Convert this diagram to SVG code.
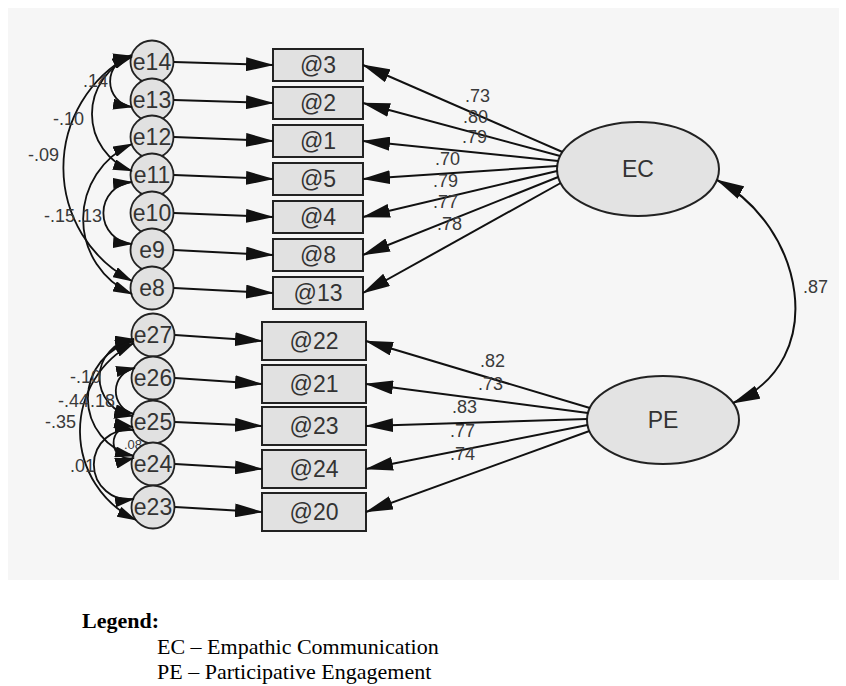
<svg xmlns="http://www.w3.org/2000/svg" width="846" height="686" viewBox="0 0 846 686">
<defs>
<marker id="ah" viewBox="0 0 28 14" refX="27" refY="7" markerWidth="28" markerHeight="14" markerUnits="userSpaceOnUse" orient="auto-start-reverse"><path d="M0,0 L28,7 L0,14 z" fill="#111"/></marker>
<marker id="as" viewBox="0 0 20 11" refX="19" refY="5.5" markerWidth="20" markerHeight="11" markerUnits="userSpaceOnUse" orient="auto-start-reverse"><path d="M0,0 L20,5.5 L0,11 z" fill="#111"/></marker>
</defs>
<style>
.c{fill:none;stroke:#111;stroke-width:2}
.ca{fill:none;stroke:#111;stroke-width:1.8;marker-start:url(#as);marker-end:url(#as)}
.p{marker-end:url(#ah)}
.box{fill:#e1e1e1;stroke:#222;stroke-width:2}
.err{fill:#e1e1e1;stroke:#222;stroke-width:1.8}
.lat{fill:#e3e3e3;stroke:#222;stroke-width:2}
.t{font-family:"Liberation Sans",Arial,sans-serif;font-size:23px;fill:#333;text-anchor:middle}
.lb{font-family:"Liberation Sans",Arial,sans-serif;font-size:18px;fill:#3a3a3a}
.lg{font-family:"Liberation Serif","Times New Roman",serif;font-size:22px;fill:#000}
</style>
<rect x="0" y="0" width="846" height="686" fill="#ffffff"/>
<rect x="8" y="8" width="831" height="572" fill="#f6f6f6"/>

<text class="lb" x="124" y="449" style="font-size:13px">.08</text>

<g id="e14"><circle class="err" cx="152" cy="62" r="21.5"/><text class="t" x="152" y="70">e14</text></g>
<g id="e13"><circle class="err" cx="152" cy="100" r="21.5"/><text class="t" x="152" y="108">e13</text></g>
<g id="e12"><circle class="err" cx="152" cy="137" r="21.5"/><text class="t" x="152" y="145">e12</text></g>
<g id="e11"><circle class="err" cx="152" cy="175" r="21.5"/><text class="t" x="152" y="183">e11</text></g>
<g id="e10"><circle class="err" cx="152" cy="213" r="21.5"/><text class="t" x="152" y="221">e10</text></g>
<g id="e9"><circle class="err" cx="152" cy="250" r="21.5"/><text class="t" x="152" y="258">e9</text></g>
<g id="e8"><circle class="err" cx="152" cy="288" r="21.5"/><text class="t" x="152" y="296">e8</text></g>

<g id="e27"><circle class="err" cx="153" cy="335" r="21.5"/><text class="t" x="153" y="343">e27</text></g>
<g id="e26"><circle class="err" cx="153" cy="378" r="21.5"/><text class="t" x="153" y="386">e26</text></g>
<g id="e25"><circle class="err" cx="153" cy="422" r="21.5"/><text class="t" x="153" y="430">e25</text></g>
<g id="e24"><circle class="err" cx="153" cy="464" r="21.5"/><text class="t" x="153" y="472">e24</text></g>
<g id="e23"><circle class="err" cx="153" cy="507" r="21.5"/><text class="t" x="153" y="515">e23</text></g>

<g id="q3"><rect class="box" x="273" y="49" width="90" height="32"/><text class="t" x="318" y="73">@3</text></g>
<g id="q2"><rect class="box" x="273" y="87" width="90" height="32"/><text class="t" x="318" y="111">@2</text></g>
<g id="q1"><rect class="box" x="273" y="125" width="90" height="32"/><text class="t" x="318" y="149">@1</text></g>
<g id="q5"><rect class="box" x="273" y="163" width="90" height="32"/><text class="t" x="318" y="187">@5</text></g>
<g id="q4"><rect class="box" x="273" y="201" width="90" height="32"/><text class="t" x="318" y="225">@4</text></g>
<g id="q8"><rect class="box" x="273" y="239" width="90" height="32"/><text class="t" x="318" y="263">@8</text></g>
<g id="q13"><rect class="box" x="273" y="277" width="90" height="32"/><text class="t" x="318" y="301">@13</text></g>

<g id="q22"><rect class="box" x="262" y="322" width="104" height="38"/><text class="t" x="314" y="349">@22</text></g>
<g id="q21"><rect class="box" x="262" y="365" width="104" height="38"/><text class="t" x="314" y="392">@21</text></g>
<g id="q23"><rect class="box" x="262" y="407" width="104" height="38"/><text class="t" x="314" y="434">@23</text></g>
<g id="q24"><rect class="box" x="262" y="450" width="104" height="38"/><text class="t" x="314" y="477">@24</text></g>
<g id="q20"><rect class="box" x="262" y="493" width="104" height="38"/><text class="t" x="314" y="520">@20</text></g>

<g id="EC"><ellipse class="lat" cx="638" cy="169" rx="81" ry="47"/><text class="t" x="638" y="177">EC</text></g>
<g id="PE"><ellipse class="lat" cx="663" cy="420" rx="76" ry="44"/><text class="t" x="663" y="428">PE</text></g>

<g id="connectors">
<path class="c p" d="M174 62 L273 65"/>
<path class="c p" d="M174 100 L273 103"/>
<path class="c p" d="M174 137 L273 141"/>
<path class="c p" d="M174 175 L273 179"/>
<path class="c p" d="M174 213 L273 217"/>
<path class="c p" d="M174 250 L273 255"/>
<path class="c p" d="M174 288 L273 293"/>
<path class="c p" d="M175 335 L262 341"/>
<path class="c p" d="M175 378 L262 384"/>
<path class="c p" d="M175 422 L262 426"/>
<path class="c p" d="M175 464 L262 469"/>
<path class="c p" d="M175 507 L262 512"/>

<path class="c p" d="M562.5 152 L363 65"/>
<path class="c p" d="M560.2 156 L363 103"/>
<path class="c p" d="M558.2 161 L363 141"/>
<path class="c p" d="M557.2 166 L363 179"/>
<path class="c p" d="M557.1 171 L363 217"/>
<path class="c p" d="M558.2 177 L363 255"/>
<path class="c p" d="M560.7 183 L363 293"/>

<path class="c p" d="M589.9 408 L366 341"/>
<path class="c p" d="M588 413 L366 384"/>
<path class="c p" d="M587 419 L366 426"/>
<path class="c p" d="M587.5 425 L366 469"/>
<path class="c p" d="M589.4 431 L366 512"/>

<path class="c" style="marker-start:url(#ah);marker-end:url(#ah)" d="M717 180 C803 225, 832 360, 733 403"/>

<path class="ca" d="M132 56 A25.8 25.8 0 0 0 132 107"/>
<path class="ca" d="M132 57 A60.6 60.6 0 0 0 132 171"/>
<path class="ca" d="M131 55 A127.8 127.8 0 0 0 132 281"/>
<path class="ca" d="M132 144 A82 82 0 0 0 132 294"/>
<path class="ca" d="M132 182 A31.1 31.1 0 0 0 132 244"/>

<path class="ca" d="M134 343 A98.7 98.7 0 0 0 136 520"/>
<path class="ca" d="M134 341 A58.9 58.9 0 0 0 134 456"/>
<path class="ca" d="M134 339 A38.8 38.8 0 0 0 133 416"/>
<path class="ca" d="M135 368 A23.5 23.5 0 0 0 134 414"/>
<path class="ca" d="M134 430 A34.9 34.9 0 1 0 134 499"/>
<path class="ca" d="M133 427 A16 16 0 1 0 134 458"/>
</g>

<g id="labels">
<text class="lb" x="108" y="87" text-anchor="end">.14</text>
<text class="lb" x="53" y="125">-.10</text>
<text class="lb" x="28" y="161">-.09</text>
<text class="lb" x="44" y="222">-.15</text>
<text class="lb" x="77" y="222">.13</text>
<text class="lb" x="70" y="383">-.10</text>
<text class="lb" x="58" y="407">-.44</text>
<text class="lb" x="90" y="407">.18</text>
<text class="lb" x="45" y="428">-.35</text>
<text class="lb" x="70" y="472">.01</text>

<text class="lb" x="465" y="102">.73</text>
<text class="lb" x="463" y="123">.80</text>
<text class="lb" x="462" y="143">.79</text>
<text class="lb" x="435" y="165">.70</text>
<text class="lb" x="433" y="187">.79</text>
<text class="lb" x="433" y="208">.77</text>
<text class="lb" x="437" y="230">.78</text>
<text class="lb" x="480" y="367">.82</text>
<text class="lb" x="478" y="390">.73</text>
<text class="lb" x="452" y="413">.83</text>
<text class="lb" x="450" y="437">.77</text>
<text class="lb" x="450" y="460">.74</text>
<text class="lb" x="803" y="293">.87</text>
</g>

<g id="legend">
<text class="lg" x="82" y="628" font-weight="bold">Legend:</text>
<text class="lg" x="157" y="654">EC – Empathic Communication</text>
<text class="lg" x="157" y="679">PE – Participative Engagement</text>
</g>
</svg>
